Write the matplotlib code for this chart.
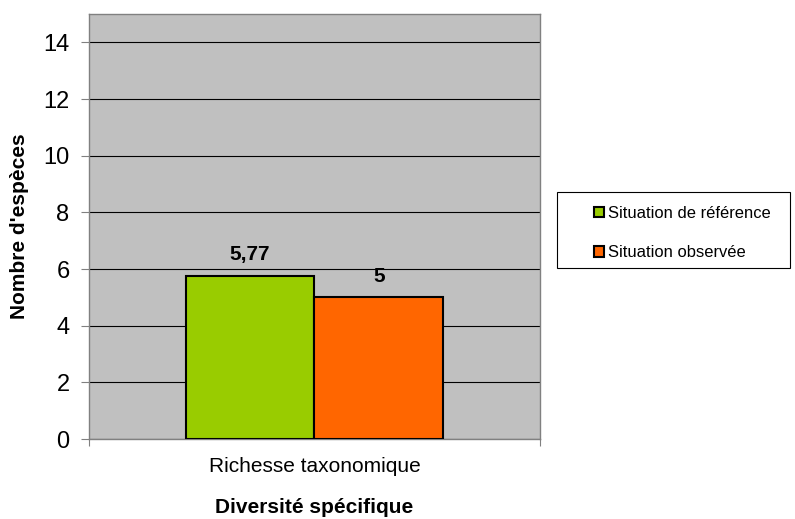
import matplotlib.pyplot as plt
import matplotlib.patches as mpatches

plt.rcParams['font.family'] = ['Liberation Sans', 'DejaVu Sans']

categories = ['Richesse taxonomique']
series = ['Situation de référence', 'Situation observée']
values = [5.77, 5]
value_labels = ['5,77', '5']
colors = ['#99CC00', '#FF6600']

fig = plt.figure(figsize=(7.95, 5.19), dpi=100)
ax = fig.add_axes([0.112, 0.154, 0.567, 0.819])
ax.set_facecolor('#C0C0C0')

w = 0.286
offsets = [-w / 2, w / 2]
for v, lab, c, off, s in zip(values, value_labels, colors, offsets, series):
    ax.bar(0 + off, v, width=w, color=c, edgecolor='black', linewidth=1.5, label=s, zorder=3)
    ax.annotate(lab, (off, v), xytext=(0, 8), textcoords='offset points',
                ha='center', va='bottom', fontsize=15, fontweight='bold')

ax.set_xlim(-0.5, 0.5)
ax.set_ylim(0, 15)
ax.set_yticks(range(0, 15, 2))
ax.yaxis.grid(True, color='black', linewidth=0.8, zorder=0)
ax.set_axisbelow(True)

ax.set_xticks([-0.5, 0.5])
ax.set_xticklabels([])
ax.set_xticks([0], minor=True)
ax.set_xticklabels(categories, minor=True, fontsize=15)
ax.tick_params(axis='x', which='minor', length=0, pad=13)
ax.tick_params(axis='x', which='major', length=5, color='#808080')
ax.tick_params(axis='y', length=6, color='#808080', labelsize=17, pad=8)

for sp in ax.spines.values():
    sp.set_color('#808080')
    sp.set_linewidth(1)

ax.set_ylabel("Nombre d'espèces", fontsize=15, fontweight='bold', labelpad=10)
ax.set_xlabel('Diversité spécifique', fontsize=15, fontweight='bold', labelpad=16)

# legend box drawn separately to match the reference frame size
fig.patches.append(mpatches.Rectangle((0.7006, 0.4836), 0.293, 0.1464,
                                      transform=fig.transFigure, facecolor='white',
                                      edgecolor='black', linewidth=0.8))

handles = [mpatches.Patch(facecolor=c, edgecolor='black', linewidth=1.5, label=s)
           for c, s in zip(colors, series)]
leg = fig.legend(handles=handles, loc='upper left', bbox_to_anchor=(594 / 795, 1 - 206 / 519),
                 frameon=False, fontsize=11.9,
                 handlelength=0.6, handleheight=0.6, handletextpad=0.25,
                 labelspacing=1.47, borderpad=0, borderaxespad=0)

fig.savefig('out.png', dpi=100)
